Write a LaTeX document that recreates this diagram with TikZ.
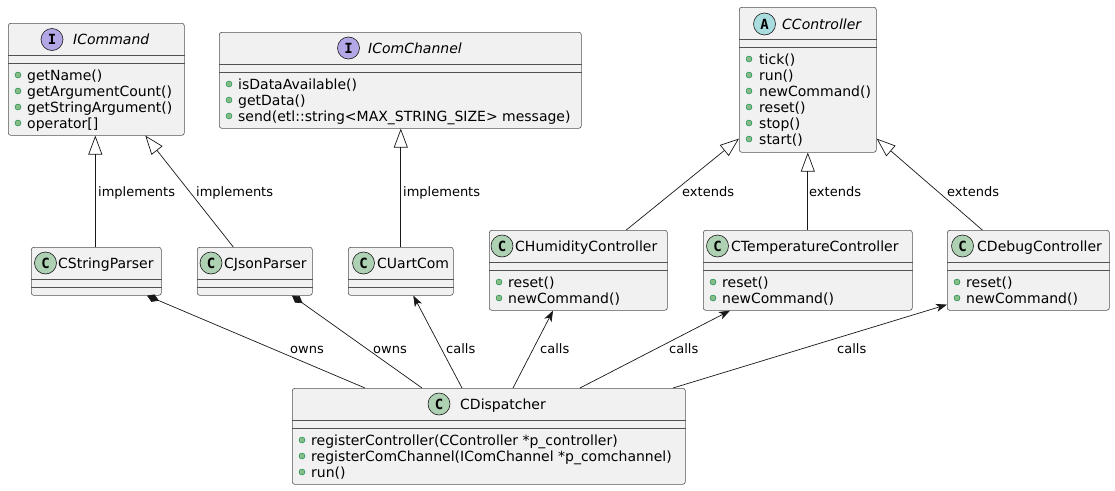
\documentclass[tikz,border=0pt]{standalone}
\usepackage{fontspec}
\setmainfont{DejaVu Sans}
\newfontfamily\badgefont{DejaVu Sans Mono}
\usetikzlibrary{arrows.meta,calc,positioning}
\definecolor{boxfill}{RGB}{241,241,241}
\definecolor{boxline}{RGB}{24,24,24}
\definecolor{classbg}{RGB}{173,209,178}
\definecolor{ifacebg}{RGB}{180,167,229}
\definecolor{abstractbg}{RGB}{169,220,223}
\definecolor{dotfill}{RGB}{132,190,132}
\definecolor{dotline}{RGB}{3,128,72}

\tikzset{
  classbox/.style={draw=boxline!75, fill=boxfill, rounded corners=2.5pt, line width=0.6pt,
    anchor=north west, inner sep=0pt},
  sepline/.style={draw=boxline!75, line width=0.6pt},
  badge/.style={circle, draw=boxline, line width=0.6pt, minimum size=22pt, inner sep=0pt,
    font=\badgefont\bfseries\fontsize{14}{14}\selectfont},
  clsname/.style={anchor=base west, inner sep=0pt, font=\fontsize{14}{17}\selectfont},
  member/.style={anchor=base west, inner sep=0pt, font=\fontsize{14}{17}\selectfont},
  mdot/.style={circle, fill=dotfill, draw=dotline, line width=0.4pt, minimum size=6pt, inner sep=0pt},
  lbl/.style={anchor=base west, inner sep=0pt, font=\fontsize{13}{15}\selectfont},
  realize/.style={draw=boxline, line width=0.7pt, -{Triangle[open, length=19pt, width=14pt]}},
  owns/.style={draw=boxline, line width=0.7pt, -{Diamond[length=13pt, width=8pt]}},
  calls/.style={draw=boxline, line width=0.7pt, -{Stealth[length=11pt, width=8pt, inset=3pt]}}
}

\begin{document}
\begin{tikzpicture}[x=1pt, y=-1pt]
    \path[use as bounding box, fill=white] (0,0) rectangle (1115,490);

    % interfaces and abstract base
    \node[classbox, minimum width=176pt, minimum height=112pt] (cmd) at (8,23) {};
    \node[badge, fill=ifacebg] (cmd-b) at ($(cmd.north west)+(44,16.5)$) {I};
    \node[clsname, font=\itshape\fontsize{14}{17}\selectfont] (cmd-t) at ($(cmd.north west)+(65,21.5)$) {ICommand};
    \foreach \m [count=\i from 0] in {getName(), getArgumentCount(), getStringArgument(), {operator[]}} {
        \node[mdot] (cmd-d\i) at ($(cmd.north west)+(10,52+16*\i)$) {};
        \node[member] (cmd-m\i) at ($(cmd.north west)+(19,57+16*\i)$) {\m};
    }

    \node[classbox, minimum width=362pt, minimum height=96pt] (chan) at (219,32) {};
    \node[badge, fill=ifacebg] (chan-b) at ($(chan.north west)+(129.5,16)$) {I};
    \node[clsname, font=\itshape\fontsize{14}{17}\selectfont] (chan-t) at ($(chan.north west)+(149,21)$) {IComChannel};
    \foreach \m [count=\i from 0] in {isDataAvailable(), getData(), send(etl::string<MAX\_STRING\_SIZE> message)} {
        \node[mdot] (chan-d\i) at ($(chan.north west)+(10,52+16*\i)$) {};
        \node[member] (chan-m\i) at ($(chan.north west)+(19,57+16*\i)$) {\m};
    }

    \node[classbox, minimum width=137pt, minimum height=145pt] (ctrl) at (739,7) {};
    \node[badge, fill=abstractbg] (ctrl-b) at ($(ctrl.north west)+(25.5,17)$) {A};
    \node[clsname, font=\itshape\fontsize{14}{17}\selectfont] (ctrl-t) at ($(ctrl.north west)+(43,22)$) {CController};
    \foreach \m [count=\i from 0] in {tick(), run(), newCommand(), reset(), stop(), start()} {
        \node[mdot] (ctrl-d\i) at ($(ctrl.north west)+(10,52+16*\i)$) {};
        \node[member] (ctrl-m\i) at ($(ctrl.north west)+(20,57+16*\i)$) {\m};
    }

    % parsers and com channel
    \node[classbox, minimum width=130pt, minimum height=48pt] (spar) at (31,247) {};
    \node[badge, fill=classbg] (spar-b) at ($(spar.north west)+(14.5,16)$) {C};
    \node[clsname] (spar-t) at ($(spar.north west)+(27,21)$) {CStringParser};

    \node[classbox, minimum width=115pt, minimum height=48pt] (jpar) at (197,247) {};
    \node[badge, fill=classbg] (jpar-b) at ($(jpar.north west)+(14,16)$) {C};
    \node[clsname] (jpar-t) at ($(jpar.north west)+(27,21)$) {CJsonParser};

    \node[classbox, minimum width=105pt, minimum height=48pt] (uart) at (348,247) {};
    \node[badge, fill=classbg] (uart-b) at ($(uart.north west)+(15.5,16)$) {C};
    \node[clsname] (uart-t) at ($(uart.north west)+(29,21)$) {CUartCom};

    % concrete controllers
    \node[classbox, minimum width=178pt, minimum height=80pt] (hum) at (489,230) {};
    \node[badge, fill=classbg] (hum-b) at ($(hum.north west)+(13,16)$) {C};
    \node[clsname] (hum-t) at ($(hum.north west)+(26,21)$) {CHumidityController};

    \node[classbox, minimum width=209pt, minimum height=80pt] (temp) at (703,230) {};
    \node[badge, fill=classbg] (temp-b) at ($(temp.north west)+(14.5,16)$) {C};
    \node[clsname] (temp-t) at ($(temp.north west)+(28,21)$) {CTemperatureController};

    \node[classbox, minimum width=162pt, minimum height=80pt] (dbg) at (947,230) {};
    \node[badge, fill=classbg] (dbg-b) at ($(dbg.north west)+(15.5,16)$) {C};
    \node[clsname] (dbg-t) at ($(dbg.north west)+(30,21)$) {CDebugController};

    \foreach \c in {hum,temp,dbg} {
        \foreach \m [count=\i from 0] in {reset(), newCommand()} {
            \node[mdot] (\c-d\i) at ($(\c.north west)+(10,52+16*\i)$) {};
            \node[member] (\c-m\i) at ($(\c.north west)+(19,57+16*\i)$) {\m};
        }
    }

    % dispatcher
    \node[classbox, minimum width=393pt, minimum height=96pt] (disp) at (292,388) {};
    \node[badge, fill=classbg] (disp-b) at ($(disp.north west)+(147,16)$) {C};
    \node[clsname] (disp-t) at ($(disp.north west)+(168,21)$) {CDispatcher};
    \foreach \m [count=\i from 0] in {registerController(CController *p\_controller),
        registerComChannel(IComChannel *p\_comchannel), run()} {
        \node[mdot] (disp-d\i) at ($(disp.north west)+(10,52+16*\i)$) {};
        \node[member] (disp-m\i) at ($(disp.north west)+(19,57+16*\i)$) {\m};
    }

    % compartment lines
    \foreach \c in {cmd,chan,ctrl,spar,jpar,uart,hum,temp,dbg,disp} {
        \draw[sepline] ($(\c.north west)+(0,32)$) -- ($(\c.north east)+(0,32)$);
        \draw[sepline] ($(\c.north west)+(0,40)$) -- ($(\c.north east)+(0,40)$);
    }

    % generalisation
    \draw[realize] ($(spar.north)+(-1,0)$) -- ($(cmd.south)+(-1,0)$);
    \draw[realize] ($(jpar.north)+(-21.5,0)$) -- ($(cmd.south)+(49,0)$);
    \draw[realize] (uart.north) -- (uart.north |- chan.south);
    \draw[realize] ($(hum.north)+(48,0)$) -- ($(ctrl.south west)+(0,-14)$);
    \draw[realize] (temp.north) -- (temp.north |- ctrl.south);
    \draw[realize] ($(dbg.north)+(-46,0)$) -- ($(ctrl.south east)+(0,-14)$);

    % dispatcher relations
    \draw[owns] ($(disp.north west)+(73,0)$) -- ($(spar.south west)+(116,0)$);
    \draw[owns] ($(disp.north west)+(130,0)$) -- ($(jpar.south west)+(95,0)$);
    \draw[calls] ($(disp.north west)+(170,0)$) -- ($(uart.south)+(12.5,0)$);
    \draw[calls] ($(disp.north west)+(221,0)$) -- ($(hum.south west)+(64,0)$);
    \draw[calls] ($(disp.north west)+(288,0)$) -- ($(temp.south west)+(27,0)$);
    \draw[calls] ($(disp.north west)+(381,0)$) -- ($(dbg.south west)+(0,-6)$);

    % edge labels
    \node[lbl] (l-imp1) at (98,196) {implements};
    \node[lbl] (l-imp2) at (196,196) {implements};
    \node[lbl] (l-imp3) at (403,196) {implements};
    \node[lbl] (l-ext1) at (682,196) {extends};
    \node[lbl] (l-ext2) at (809,196) {extends};
    \node[lbl] (l-ext3) at (947,196) {extends};
    \node[lbl] (l-own1) at (290,353) {owns};
    \node[lbl] (l-own2) at (373,353) {owns};
    \node[lbl] (l-call1) at (446,353) {calls};
    \node[lbl] (l-call2) at (540,353) {calls};
    \node[lbl] (l-call3) at (669,353) {calls};
    \node[lbl] (l-call4) at (837,353) {calls};
\end{tikzpicture}
\end{document}
